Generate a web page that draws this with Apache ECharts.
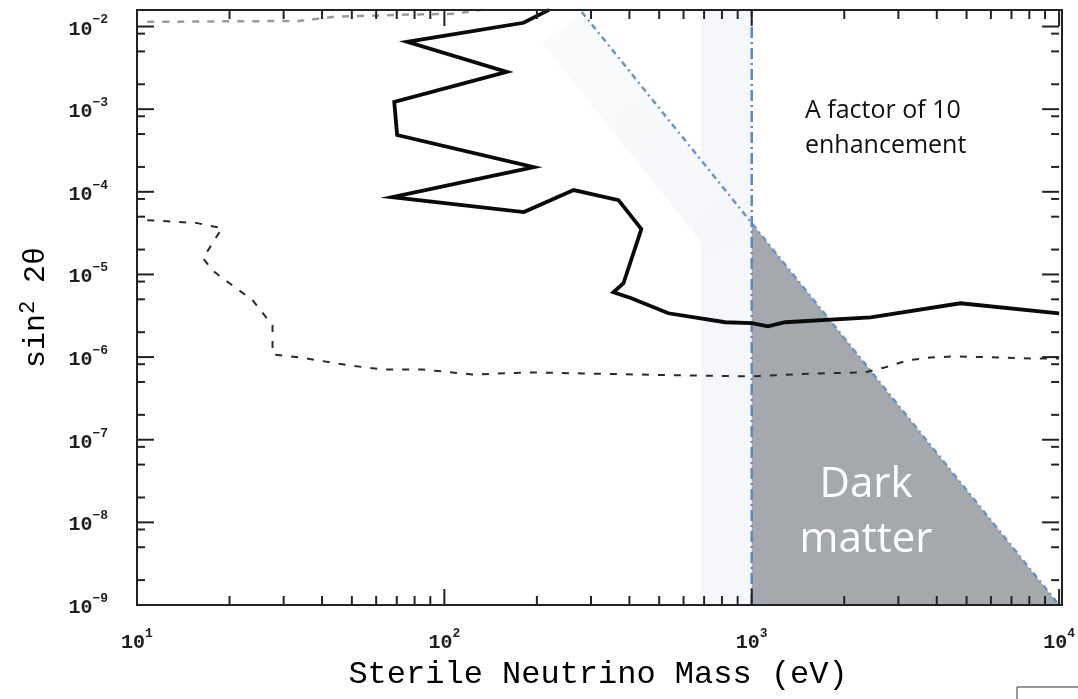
<!DOCTYPE html>
<html>
<head>
<meta charset="utf-8">
<script src="https://cdn.jsdelivr.net/npm/echarts@6/dist/echarts.min.js"></script>
<style>
  html, body { margin: 0; padding: 0; background: #ffffff; }
  #chart { width: 1078px; height: 699px; }
</style>
</head>
<body>
<div id="chart"></div>
<script>
// Sterile neutrino parameter space: mass (eV) against mixing sin^2(2θ)

// Axis ranges
const massRange = [10, 10000];
const mixRange = [1e-9, Math.pow(10, -1.8)];

// Tick values (major ticks carry the labels)
const xMajorTicks = [10, 100, 1000, 10000];
const xMinorTicks = [20, 30, 40, 50, 60, 70, 80, 90,
                     200, 300, 400, 500, 600, 700, 800, 900,
                     2000, 3000, 4000, 5000, 6000, 7000, 8000, 9000];
const yMajorTicks = [1e-9, 1e-8, 1e-7, 1e-6, 1e-5, 1e-4, 1e-3, 1e-2];
const yMinorTicks = [2e-9, 5e-9, 2e-8, 5e-8, 2e-7, 5e-7, 2e-6, 5e-6,
                     2e-5, 5e-5, 2e-4, 5e-4, 2e-3, 5e-3];
const yShoulderTicks = [8.2e-9, 8.2e-8, 8.2e-7, 8.2e-6, 8.2e-5, 8.2e-4, 8.2e-3];

// Solid exclusion contour [mass, sin^2 2θ]
const solidLimit = [
  [219, 0.0159], [181, 0.0111], [75.7, 0.00653], [159.6, 0.00282],
  [68.7, 0.00122], [70.2, 4.87e-4], [195.4, 1.99e-4], [67.6, 8.63e-5],
  [181.4, 5.68e-5], [263.5, 1.05e-4], [368.6, 7.93e-5], [437.5, 3.53e-5],
  [382.6, 7.82e-6], [354.8, 6.08e-6], [406, 5.15e-6], [535.6, 3.39e-6],
  [820, 2.64e-6], [1000, 2.57e-6], [1130, 2.36e-6], [1283, 2.64e-6],
  [2438, 3.03e-6], [4776, 4.48e-6], [10000, 3.39e-6]
];

// Dashed sensitivity curve
const dashedLimit = [
  [10.8, 4.54e-5], [15.7, 4.18e-5], [18.9, 3.63e-5], [16.4, 1.57e-5],
  [17.6, 1.12e-5], [20.0, 7.82e-6], [23.8, 4.86e-6], [27.6, 2.42e-6],
  [27.6, 1.08e-6], [33.8, 9.91e-7], [49.1, 7.93e-7], [62.8, 7.09e-7],
  [84.7, 7.09e-7], [123, 6.16e-7], [192, 6.52e-7], [280, 6.34e-7],
  [608, 6.0e-7], [1000, 5.83e-7], [1607, 6.34e-7], [2333, 6.52e-7],
  [2710, 7.5e-7], [3215, 9.12e-7], [3818, 9.91e-7], [4667, 1.02e-6],
  [8054, 9.64e-7], [10000, 9.64e-7]
];

// Grey dashed curve along the top
const upperDashed = [
  [10.8, 0.0114], [33.8, 0.0117], [43.9, 0.01312], [71.3, 0.01387],
  [107.4, 0.01426], [139.6, 0.0164]
];

// Decay bound (dash-dot diagonal) and mass bound (dash-dot vertical)
const decayLine = [[280, 0.0150], [10000, 1e-9]];
const massBound = 1000;

// Shaded regions
const darkMatter = [[1000, 4.19e-5], [1000, 1e-9], [10000, 1e-9]];
const enhancementBand = [[207.5, 6.33e-3], [280, 0.0150], [1000, 4.19e-5], [738, 1.76e-5]];
const massStrip = [681, 1000];

const MONO = '"Liberation Mono", "Courier New", monospace';
const SANS = '"Open Sans", "Noto Sans", sans-serif';

function powLabel(v) {
  const lg = Math.log10(v);
  const e = Math.round(lg);
  if (Math.abs(lg - e) > 1e-6) return '';
  return '{b|10}{s|' + (e < 0 ? '\u2212' + (-e) : e) + '}';
}
const labelRich = {
  b: { fontFamily: MONO, fontSize: 20, fontWeight: 'bold', color: '#1e1e1e', lineHeight: 26, verticalAlign: 'bottom' },
  s: { fontFamily: MONO, fontSize: 13, fontWeight: 'bold', color: '#1e1e1e', lineHeight: 13, verticalAlign: 'top' }
};

function polygonSeries(points, fill, z) {
  return {
    type: 'custom', z: z, silent: true, clip: true,
    data: points,
    renderItem: function (params, api) {
      if (params.dataIndex !== 0) return null;
      return {
        type: 'polygon',
        shape: { points: points.map(p => api.coord(p)) },
        style: { fill: fill, stroke: null }
      };
    }
  };
}

// Tick data: [mass, mix, kind]; kind 0 x-major, 1 x-minor, 2 y-major, 3 y-minor
const tickData = []
  .concat(xMajorTicks.map(v => [v, mixRange[0], 0]))
  .concat(xMinorTicks.map(v => [v, mixRange[0], 1]))
  .concat(yMajorTicks.map(v => [massRange[0], v, 2]))
  .concat(yMinorTicks.map(v => [massRange[0], v, 3]))
  .concat(yShoulderTicks.map(v => [massRange[0], v, 3]));

const chart = echarts.init(document.getElementById('chart'), null, { renderer: 'canvas' });

chart.setOption({
  animation: false,
  backgroundColor: '#ffffff',
  grid: { left: 137, right: 16, top: 10, bottom: 94, show: false },
  xAxis: {
    type: 'log', logBase: 10, min: massRange[0], max: massRange[1],
    name: 'Sterile Neutrino Mass (eV)',
    nameLocation: 'middle', nameGap: 54,
    nameTextStyle: { fontFamily: MONO, fontSize: 32, color: '#000000' },
    axisLine: { show: false }, axisTick: { show: false },
    splitLine: { show: false }, minorTick: { show: false },
    axisLabel: { margin: 22, formatter: powLabel, rich: labelRich }
  },
  yAxis: {
    type: 'log', logBase: 10, min: mixRange[0], max: mixRange[1],
    name: '{a|sin}{s|2}{a| 2\u03b8}',
    nameLocation: 'middle', nameGap: 86, nameRotate: 90,
    nameTextStyle: {
      rich: {
        a: { fontFamily: MONO, fontSize: 30, color: '#000000', lineHeight: 34, verticalAlign: 'bottom' },
        s: { fontFamily: MONO, fontSize: 22, color: '#000000', lineHeight: 22, verticalAlign: 'top' }
      }
    },
    axisLine: { show: false }, axisTick: { show: false },
    splitLine: { show: false }, minorTick: { show: false },
    axisLabel: { margin: 29, formatter: powLabel, rich: labelRich }
  },
  series: [
    polygonSeries([[massStrip[0], mixRange[0]], [massStrip[1], mixRange[0]],
                   [massStrip[1], mixRange[1]], [massStrip[0], mixRange[1]]], '#f5f7fa', 1),
    polygonSeries(enhancementBand, {
      type: 'linear', x: 0, y: 0, x2: 1, y2: 1,
      colorStops: [{ offset: 0, color: '#fafbfc' }, { offset: 1, color: '#f4f6f9' }]
    }, 1),
    polygonSeries(darkMatter, '#a5a8ad', 2),
    {
      type: 'line', z: 4, silent: true, symbol: 'none', data: decayLine,
      lineStyle: { color: '#6a94c6', width: 2.5, type: [6, 4, 2, 4] }
    },
    {
      type: 'line', z: 4, silent: true, symbol: 'none',
      data: [[massBound, mixRange[0]], [massBound, mixRange[1]]],
      lineStyle: { color: '#5f89b8', width: 2.5, type: [11, 4, 2, 4] }
    },
    {
      type: 'line', z: 5, silent: true, symbol: 'none', data: upperDashed,
      lineStyle: { color: '#9a9a9a', width: 2.5, type: [7, 8] }
    },
    {
      type: 'line', z: 5, silent: true, symbol: 'none', data: dashedLimit,
      lineStyle: { color: '#2a2a2a', width: 2, type: [7, 9] }
    },
    {
      type: 'line', z: 6, silent: true, symbol: 'none', data: solidLimit,
      lineStyle: { color: '#0a0a0a', width: 3.8, join: 'miter' }
    },
    {
      type: 'custom', z: 8, silent: true, clip: false, data: tickData,
      renderItem: function (params, api) {
        const cs = params.coordSys;
        const kind = api.value(2);
        const style = { stroke: '#222', lineWidth: 2 };
        if (kind <= 1) {
          const px = api.coord([api.value(0), mixRange[0]])[0];
          const len = kind === 0 ? 16 : 9;
          const yb = cs.y + cs.height;
          return { type: 'group', children: [
            { type: 'line', shape: { x1: px, y1: yb, x2: px, y2: yb - len }, style: style },
            { type: 'line', shape: { x1: px, y1: cs.y, x2: px, y2: cs.y + len }, style: style }
          ] };
        }
        const py = api.coord([massRange[0], api.value(1)])[1];
        const len = kind === 2 ? 17 : 8;
        const xr = cs.x + cs.width;
        return { type: 'group', children: [
          { type: 'line', shape: { x1: cs.x, y1: py, x2: cs.x + len, y2: py }, style: style },
          { type: 'line', shape: { x1: xr, y1: py, x2: xr - len, y2: py }, style: style }
        ] };
      }
    }
  ],
  graphic: [
    {
      type: 'rect', z: 100, silent: true,
      shape: { x: 137, y: 10, width: 925, height: 595 },
      style: { fill: null, stroke: '#222', lineWidth: 2 }
    },
    {
      type: 'text', z: 100, left: 805, top: 93, silent: true,
      style: { text: 'A factor of 10\nenhancement', font: '25px ' + SANS, fill: '#111', lineHeight: 35 }
    },
    {
      type: 'text', z: 100, silent: true, x: 866, y: 458,
      style: { text: 'Dark\nmatter', font: '42px ' + SANS, fill: '#ffffff', align: 'center', lineHeight: 55 }
    },
    {
      type: 'rect', z: 100, silent: true,
      shape: { x: 1017, y: 687, width: 100, height: 40 },
      style: { fill: '#ffffff', stroke: '#333', lineWidth: 1 }
    }
  ]
});
</script>
</body>
</html>
